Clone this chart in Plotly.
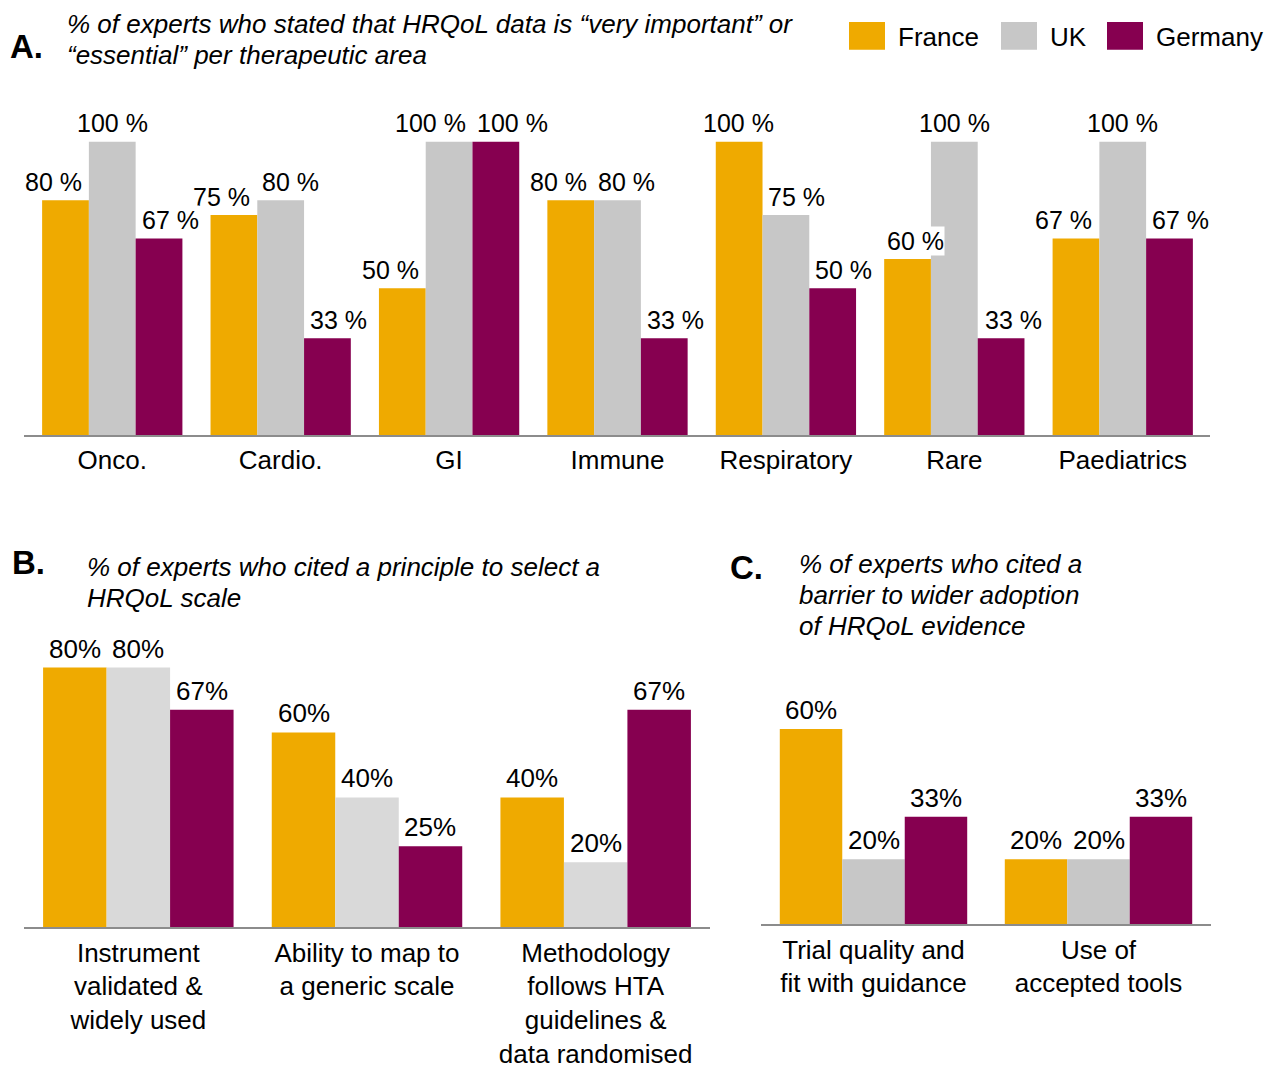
import plotly.graph_objects as go

W, H = 1265, 1069
FONT = "Liberation Sans, Arial, Helvetica, sans-serif"
KY = 1.016  # vertical compensation

countries = ["France", "UK", "Germany"]
colors_a = ["#EFAA00", "#C7C7C7", "#860050"]
colors_b = ["#EFAA00", "#D9D9D9", "#860050"]
colors_c = ["#EFAA00", "#C7C7C7", "#860050"]

# Panel A
areas = ["Onco.", "Cardio.", "GI", "Immune", "Respiratory", "Rare", "Paediatrics"]
a_france = [80, 75, 50, 80, 100, 60, 67]
a_uk = [100, 80, 100, 80, 75, 100, 100]
a_germany = [67, 33, 100, 33, 50, 33, 67]
# horizontal nudges of value labels (px), to keep them from colliding
a_label_nudge = [
    [-12, -12, -12, -12, -1, 8, -12],
    [0, 10, -19, 9, 11, 0, 0],
    [11, 11, 17, 11, 11, 12, 11],
]

# Panel B
principles = ["Instrument<br>validated &<br>widely used",
              "Ability to map to<br>a generic scale",
              "Methodology<br>follows HTA<br>guidelines &<br>data randomised"]
b_france = [80, 60, 40]
b_uk = [80, 40, 20]
b_germany = [67, 25, 67]

# Panel C
barriers = ["Trial quality and<br>fit with guidance", "Use of<br>accepted tools"]
c_france = [60, 20]
c_uk = [20, 20]
c_germany = [33, 33]

BARGAP = 0.167
bw = (1 - BARGAP) / 3


def px_x(p):
    return p / W


def px_y(p):
    return 1 - p * KY / H


fig = go.Figure()
annotations = []


def add_panel(cats, series, cols, xa, ya, fmt, fsize, nudges=None):
    for k, (name, vals, col) in enumerate(zip(countries, series, cols)):
        fig.add_trace(go.Bar(
            x=cats, y=vals, name=name, marker=dict(color=col, line=dict(width=0)),
            xaxis=xa, yaxis=ya, showlegend=False, hoverinfo="x+y+name"))
        for i, v in enumerate(vals):
            annotations.append(dict(
                x=i + (k - 1) * bw, y=v, xref=xa, yref=ya,
                xshift=nudges[k][i] if nudges else 0,
                text=fmt.format(v), showarrow=False, yanchor="bottom",
                yshift=3, bgcolor="white", borderpad=0,
                font=dict(family=FONT, size=fsize, color="#000000")))


add_panel(areas, [a_france, a_uk, a_germany], colors_a, "x", "y", "{} %", 25, a_label_nudge)
add_panel(principles, [b_france, b_uk, b_germany], colors_b, "x2", "y2", "{}%", 26)
add_panel(barriers, [c_france, c_uk, c_germany], colors_c, "x3", "y3", "{}%", 26)

xcommon = dict(type="category", showgrid=False, zeroline=False, showline=True,
               linecolor="#8C8C8C", linewidth=2, ticks="", fixedrange=True,
               tickfont=dict(family=FONT, size=26, color="#000000"),
               ticklabelstandoff=1)
ycommon = dict(visible=False, range=[0, 100], showgrid=False, zeroline=False, fixedrange=True)

fig.update_layout(
    width=W, height=H,
    margin=dict(l=0, r=0, t=0, b=0),
    paper_bgcolor="white", plot_bgcolor="white",
    barmode="group", bargap=BARGAP, bargroupgap=0,
    showlegend=False,
    font=dict(family=FONT, color="#000000"),
    xaxis=dict(xcommon, domain=[px_x(24), px_x(1210)], anchor="y"),
    yaxis=dict(ycommon, domain=[px_y(437), px_y(142)], anchor="x"),
    xaxis2=dict(xcommon, domain=[px_x(24), px_x(710)], anchor="y2"),
    yaxis2=dict(ycommon, domain=[px_y(931), px_y(605)], anchor="x2"),
    xaxis3=dict(xcommon, domain=[px_x(761), px_x(1211)], anchor="y3"),
    yaxis3=dict(ycommon, domain=[px_y(928), px_y(601)], anchor="x3"),
)


def ptext(x, y, text, size, bold=False, italic=False):
    annotations.append(dict(
        x=px_x(x), y=px_y(y), xref="paper", yref="paper", text=text,
        showarrow=False, xanchor="left", yanchor="middle", align="left",
        font=dict(family=FONT, size=size, color="#000000",
                  weight="bold" if bold else "normal",
                  style="italic" if italic else "normal")))


def ptitle(x, y0, lines, size=26, step=31):
    for j, ln in enumerate(lines):
        ptext(x, y0 + j * step, ln, size, italic=True)


ptext(8, 47, "A.", 33, bold=True)
ptitle(65, 24, ["% of experts who stated that HRQoL data is “very important” or",
                "“essential” per therapeutic area"])
ptext(10, 565, "B.", 33, bold=True)
ptitle(85, 569, ["% of experts who cited a principle to select a", "HRQoL scale"])
ptext(728, 570, "C.", 33, bold=True)
ptitle(797, 566, ["% of experts who cited a", "barrier to wider adoption", "of HRQoL evidence"])

# Legend (drawn manually)
shapes = []
leg_x = [849, 1001, 1107]
for name, col, lx in zip(countries, colors_a, leg_x):
    shapes.append(dict(type="rect", xref="paper", yref="paper",
                       x0=px_x(lx), x1=px_x(lx + 36), y0=px_y(50), y1=px_y(22),
                       fillcolor=col, line=dict(width=0)))
    ptext(lx + 47, 37, name, 26)

fig.update_layout(annotations=annotations, shapes=shapes)
fig.write_html("out.html")
